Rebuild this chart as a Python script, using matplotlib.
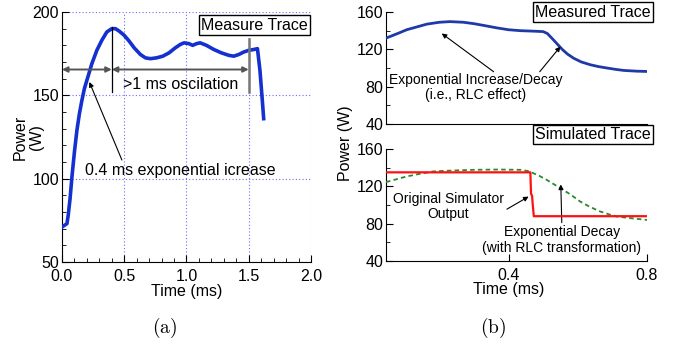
"""
Recreate the two-panel power trace figure: (a) measured trace, (b) measured vs simulated.
"""
import matplotlib
matplotlib.use("Agg")
import matplotlib.pyplot as plt
from matplotlib.ticker import MultipleLocator

plt.rcParams["font.family"] = ["Liberation Sans", "DejaVu Sans"]
plt.rcParams["mathtext.fontset"] = "cm"

# ──────────────────────────────────────────────
# Data
# ──────────────────────────────────────────────
# (a) measured trace
a_time = [0.0, 0.02, 0.04, 0.05, 0.065, 0.08, 0.10, 0.12, 0.14, 0.16, 0.18, 0.20,
          0.24, 0.28, 0.32, 0.36, 0.40, 0.43, 0.46, 0.50, 0.54, 0.58, 0.63, 0.67,
          0.71, 0.76, 0.81, 0.86, 0.91, 0.95, 0.98, 1.02, 1.05, 1.08, 1.11, 1.16,
          1.22, 1.28, 1.34, 1.38, 1.42, 1.46, 1.50, 1.54, 1.57, 1.59, 1.61, 1.62]
a_power = [71, 72, 73, 78, 88, 101, 116, 129, 139, 147, 154, 159,
           169, 177, 183, 188, 190, 190, 188.5, 186, 182.5, 178.5, 174.5, 172.5,
           172, 172.5, 173.5, 175.5, 178.5, 180.5, 181.5, 181, 180, 181, 181.5, 180,
           177.5, 175.5, 174, 173.5, 174.5, 176, 177, 177.5, 178, 165, 146, 136]

# (b) top: measured trace
m_time = [0.046, 0.08, 0.106, 0.135, 0.164, 0.20, 0.231, 0.27, 0.30, 0.33, 0.366,
          0.40, 0.434, 0.47, 0.50, 0.512, 0.525, 0.54, 0.555, 0.57, 0.588, 0.61,
          0.636, 0.66, 0.684, 0.71, 0.733, 0.77, 0.80]
m_power = [132, 137, 141, 144, 147, 149, 149.7, 149, 147.5, 145.5, 143,
           141, 140, 139.5, 139, 137, 132, 126, 120, 115, 110.5, 106.5,
           103.5, 101.5, 100, 98.5, 97.4, 96.6, 96.3]

# (b) bottom: original simulator output
s_time = [0.046, 0.20, 0.35, 0.463, 0.465, 0.468, 0.470, 0.473, 0.60, 0.80]
s_power = [135, 135, 135, 135, 112, 110, 100, 88, 88, 88]

# (b) bottom: after RLC transformation
r_time = [0.046, 0.08, 0.106, 0.145, 0.183, 0.24, 0.30, 0.37, 0.434, 0.455,
          0.472, 0.49, 0.51, 0.53, 0.55, 0.58, 0.607, 0.635, 0.665, 0.69,
          0.713, 0.75, 0.80]
r_power = [124.5, 128, 130.6, 133.5, 136, 137, 137.7, 138, 137.7, 136.5,
           134, 131, 127, 122.5, 118, 111, 103.7, 98, 93, 90,
           87.6, 86, 84]

BLUE = "#1430d0"
NAVY = "#1f3aa8"
FS = 11.5

fig = plt.figure(figsize=(6.78, 3.45), dpi=100)

# ──────────────────────────────────────────────
# Panel (a)
# ──────────────────────────────────────────────
ax = fig.add_axes([0.0914, 0.2406, 0.3673, 0.7246])
ax.plot(a_time, a_power, color=BLUE, lw=2.6, solid_joinstyle="round", zorder=3)
ax.set_xlim(0, 2)
ax.set_ylim(50, 200)
ax.xaxis.set_major_locator(MultipleLocator(0.5))
ax.xaxis.set_minor_locator(MultipleLocator(0.1))
ax.yaxis.set_major_locator(MultipleLocator(50))
ax.yaxis.set_minor_locator(MultipleLocator(10))
ax.xaxis.set_major_formatter(plt.FuncFormatter(lambda v, p: f"{v:.1f}"))
ax.tick_params(which="both", direction="in", labelsize=FS, pad=2)
ax.tick_params(axis="x", pad=5)
ax.tick_params(which="major", length=5)
ax.tick_params(which="minor", length=3)
ax.grid(True, which="major", color="#6a6aff", ls=(0, (1, 2)), lw=0.8)
ax.spines["top"].set_visible(False)
ax.spines["right"].set_visible(False)
ax.set_xlabel("Time (ms)", fontsize=FS, labelpad=0)
fig.text(0.042, 0.603, "Power\n(W)", rotation=90, ha="center", va="center",
         fontsize=FS, linespacing=1.05)

# spans
ax.plot([0.4, 0.4], [152, 191], color="black", lw=0.9, zorder=4)
ax.plot([1.5, 1.5], [152, 184], color="#777777", lw=1.8, zorder=4)
arrow_kw = dict(arrowstyle="<|-|>", color="#555555", lw=1.4, mutation_scale=8,
                shrinkA=0, shrinkB=0)
ax.annotate("", xy=(0.0, 165.5), xytext=(0.4, 165.5), arrowprops=arrow_kw, zorder=4)
ax.annotate("", xy=(0.4, 165.5), xytext=(1.5, 165.5), arrowprops=arrow_kw, zorder=4)
ax.text(0.95, 156.5, ">1 ms oscilation", ha="center", va="center", fontsize=FS)
ax.annotate("0.4 ms exponential icrease", xy=(0.22, 158), xytext=(0.95, 105),
            ha="center", va="center", fontsize=FS,
            arrowprops=dict(arrowstyle="-|>", color="black", lw=0.8,
                            mutation_scale=7, shrinkA=0, shrinkB=0,
                            relpos=(0.2, 1.0)))
ax.text(1.545, 192, "Measure Trace", ha="center", va="center", fontsize=FS,
        bbox=dict(boxstyle="square,pad=0.15", fc="white", ec="black", lw=1.0),
        zorder=5)
fig.text(0.243, 0.049, r"$\mathrm{(a)}$", ha="center", va="center", fontsize=14)

# ──────────────────────────────────────────────
# Panel (b)
# ──────────────────────────────────────────────
def style_b(axb):
    axb.set_xlim(0.046, 0.8)
    axb.set_ylim(40, 160)
    axb.yaxis.set_major_locator(MultipleLocator(40))
    axb.yaxis.set_minor_locator(MultipleLocator(20))
    axb.xaxis.set_major_locator(MultipleLocator(0.4))
    axb.xaxis.set_major_formatter(plt.FuncFormatter(lambda v, p: f"{v:.1f}"))
    axb.tick_params(which="both", direction="in", labelsize=FS, pad=2)
    axb.tick_params(axis="x", pad=5)
    axb.tick_params(which="major", length=5)
    axb.tick_params(which="minor", length=3)
    axb.spines["top"].set_visible(False)
    axb.spines["right"].set_visible(False)

axt = fig.add_axes([0.5693, 0.6406, 0.385, 0.3246])
style_b(axt)
axt.tick_params(axis="x", labelbottom=False, length=0)
axt.plot(m_time, m_power, color=NAVY, lw=2.0, zorder=3)
axt.text(0.304, 79.5, "Exponential Increase/Decay\n(i.e., RLC effect)",
         ha="center", va="center", fontsize=10, linespacing=1.1)
small_arrow = dict(arrowstyle="-|>", color="black", lw=0.8, mutation_scale=7,
                   shrinkA=0, shrinkB=0)
axt.annotate("", xy=(0.207, 137), xytext=(0.357, 96), arrowprops=small_arrow)
axt.annotate("", xy=(0.55, 123), xytext=(0.49, 96), arrowprops=small_arrow)
axt.text(1.015, 1.0, "Measured Trace", transform=axt.transAxes, ha="right",
         va="center", fontsize=FS,
         bbox=dict(boxstyle="square,pad=0.15", fc="white", ec="black", lw=1.0),
         zorder=5, clip_on=False)

axs = fig.add_axes([0.5693, 0.2435, 0.385, 0.3246])
style_b(axs)
axs.plot(r_time, r_power, color="#2a8a2a", lw=1.3, ls=(0, (2.5, 1.8)), zorder=3)
axs.plot(s_time, s_power, color="#ff1010", lw=1.6, zorder=4)
axs.annotate("Original Simulator\nOutput", xy=(0.458, 109), xytext=(0.227, 98.5),
             ha="center", va="center", fontsize=10, linespacing=1.1,
             arrowprops=dict(small_arrow, relpos=(1.0, 0.35)))
axs.annotate("Exponential Decay\n(with RLC transformation)", xy=(0.551, 122),
             xytext=(0.554, 62.5), ha="center", va="center", fontsize=10,
             linespacing=1.1,
             arrowprops=dict(small_arrow, relpos=(0.5, 1.0)))
axs.text(1.015, 1.13, "Simulated Trace", transform=axs.transAxes, ha="right",
         va="center", fontsize=FS,
         bbox=dict(boxstyle="square,pad=0.15", fc="white", ec="black", lw=1.0),
         zorder=5, clip_on=False)
axs.set_xlabel("Time (ms)", fontsize=FS)
axs.xaxis.set_label_coords(0.47, -0.19)
fig.text(0.509, 0.585, "Power (W)", rotation=90, ha="center", va="center",
         fontsize=FS)
fig.text(0.727, 0.049, r"$\mathrm{(b)}$", ha="center", va="center", fontsize=14)

fig.savefig("out.png", dpi=100)
